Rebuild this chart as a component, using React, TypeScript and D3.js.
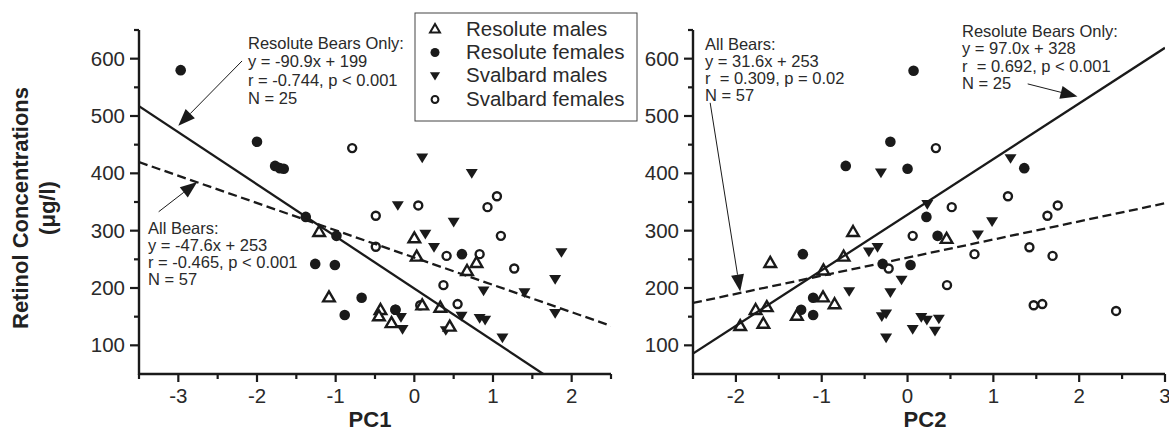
import React from "react";
import * as d3 from "d3";

// Retinol concentration (µg/l) against principal component scores, by population and sex
const resoluteMalesPC1: [number, number][] = [
  [-1.21, 298], [-1.085, 184], [-0.43, 162], [-0.45, 151], [-0.29, 139], [0.0, 287],
  [0.03, 255], [0.1, 170], [0.33, 166], [0.45, 133], [0.67, 230], [0.79, 244],
];
const resoluteFemalesPC1: [number, number][] = [
  [-2.97, 580], [-2.0, 455], [-1.77, 413], [-1.71, 409], [-1.66, 408], [-1.38, 324],
  [-0.99, 291], [-1.26, 242], [-1.01, 240], [0.605, 259], [-0.67, 183], [-0.24, 162], [-0.885, 153],
];
const svalbardMalesPC1: [number, number][] = [
  [-0.21, 344], [0.1, 427], [0.14, 294], [0.25, 271], [0.5, 315], [0.73, 400],
  [0.88, 195], [1.4, 192], [1.79, 215], [1.87, 262], [1.79, 156], [0.6, 151],
  [0.83, 147], [0.9, 144], [0.4, 126], [1.12, 113], [-0.17, 149], [-0.15, 128],
];
const svalbardFemalesPC1: [number, number][] = [
  [-0.79, 444], [-0.49, 326], [-0.49, 272], [0.05, 344], [0.075, 170], [1.05, 360],
  [0.93, 341], [1.1, 291], [0.41, 256], [0.83, 259], [1.27, 234], [0.37, 205],
  [0.55, 172], [-0.24, 162],
];

const resoluteMalesPC2: [number, number][] = [
  [-0.635, 298], [-1.6, 244], [-0.745, 255], [-0.98, 231], [-0.985, 184], [-0.85, 172],
  [-1.64, 167], [-1.77, 162], [-1.68, 138], [-1.95, 134], [-1.29, 152], [0.455, 286],
];
const resoluteFemalesPC2: [number, number][] = [
  [0.07, 579], [-0.2, 455], [-0.72, 413], [1.36, 409], [0.0, 408], [0.22, 324],
  [0.35, 291], [-0.29, 242], [0.035, 240], [-1.22, 259], [-1.1, 183], [-1.24, 162], [-1.1, 153],
];
const svalbardMalesPC2: [number, number][] = [
  [-0.31, 401], [1.2, 426], [0.23, 346], [0.985, 316], [0.82, 293], [-0.35, 271],
  [-0.45, 263], [-0.68, 194], [-0.07, 214], [-0.2, 192], [-0.25, 155], [-0.3, 150],
  [0.16, 149], [0.225, 144], [0.365, 146], [0.06, 128], [0.32, 125], [-0.25, 113],
];
const svalbardFemalesPC2: [number, number][] = [
  [0.33, 444], [1.17, 360], [0.515, 341], [1.75, 344], [1.63, 326], [0.06, 291],
  [0.78, 259], [1.42, 271], [-0.22, 234], [0.46, 205], [1.47, 170], [1.57, 172],
  [1.69, 256], [2.43, 160],
];

// Regression fits: y = slope * x + intercept
const fitPC1All = { slope: -47.6, intercept: 253 };
const fitPC1Resolute = { slope: -90.9, intercept: 199 };
const fitPC2All = { slope: 31.6, intercept: 253 };
const fitPC2Resolute = { slope: 97.0, intercept: 328 };

const pc1ResoluteNote = ["Resolute Bears Only:", "y = -90.9x + 199", "r = -0.744, p < 0.001", "N = 25"];
const pc1AllNote = ["All Bears:", "y = -47.6x + 253", "r = -0.465, p < 0.001", "N = 57"];
const pc2AllNote = ["All Bears:", "y = 31.6x + 253", "r  = 0.309, p = 0.02", "N = 57"];
const pc2ResoluteNote = ["Resolute Bears Only:", "y = 97.0x + 328", "r  = 0.692, p < 0.001", "N = 25"];

const legendLabels = ["Resolute males", "Resolute females", "Svalbard males", "Svalbard females"];
const legendKinds = ["upOpen", "dotFilled", "downFilled", "dotOpen"] as const;

const yTicks = [100, 200, 300, 400, 500, 600];
const yMinorTicks = [150, 250, 350, 450, 550, 650];
const pc1Ticks = [-3, -2, -1, 0, 1, 2];
const pc1MinorTicks = [-3.5, -2.5, -1.5, -0.5, 0.5, 1.5, 2.5];
const pc2Ticks = [-2, -1, 0, 1, 2, 3];
const pc2MinorTicks = [-2.5, -1.5, -0.5, 0.5, 1.5, 2.5];

const FONT = "'Liberation Sans', Arial, Helvetica, sans-serif";
const INK = "#1a1a1a";
const TEXT = "#2a2a2a";

type Kind = "upOpen" | "dotFilled" | "downFilled" | "dotOpen";

function Marker({ kind, x, y, s = 1 }: { kind: Kind; x: number; y: number; s?: number }) {
  if (kind === "dotFilled") return <circle cx={x} cy={y} r={5.3 * s} fill={INK} />;
  if (kind === "dotOpen")
    return <circle cx={x} cy={y} r={4 * s} fill="#fff" stroke={INK} strokeWidth={2.4 * s} />;
  if (kind === "upOpen")
    return (
      <path
        transform={`translate(${x},${y}) scale(${s})`}
        d="M0,-5.8 L5.8,4.2 L-5.8,4.2 Z"
        fill="#fff"
        stroke={INK}
        strokeWidth={2.4}
        strokeLinejoin="miter"
      />
    );
  return <path transform={`translate(${x},${y}) scale(${s})`} d="M-6,-4.3 L6,-4.3 L0,5.4 Z" fill={INK} />;
}

function Arrow({ x1, y1, x2, y2 }: { x1: number; y1: number; x2: number; y2: number }) {
  const ang = Math.atan2(y2 - y1, x2 - x1);
  const len = 17, hw = 6.5;
  const bx = x2 - len * Math.cos(ang), by = y2 - len * Math.sin(ang);
  const px = -Math.sin(ang) * hw, py = Math.cos(ang) * hw;
  return (
    <g>
      <line x1={x1} y1={y1} x2={bx} y2={by} stroke={INK} strokeWidth={1} />
      <path d={`M${x2},${y2} L${bx + px},${by + py} L${bx - px},${by - py} Z`} fill={INK} />
    </g>
  );
}

function Note({ lines, x, y, dy }: { lines: string[]; x: number; y: number; dy: number }) {
  return (
    <text x={x} y={y} fontFamily={FONT} fontSize={16.5} fill={TEXT} style={{ whiteSpace: "pre" }}>
      {lines.map((l, i) => (
        <tspan key={i} x={x} dy={i === 0 ? 0 : dy}>
          {l}
        </tspan>
      ))}
    </text>
  );
}

type Fit = { slope: number; intercept: number };

function Panel(props: {
  id: string;
  x0: number;
  x1: number;
  xDomain: [number, number];
  ticks: number[];
  minor: number[];
  title: string;
  titleX: number;
  groups: { kind: Kind; pts: [number, number][] }[];
  fitAll: Fit;
  fitRes: Fit;
}) {
  const { id, x0, x1, xDomain, ticks, minor, title, titleX, groups, fitAll, fitRes } = props;
  const top = 30, bottom = 374;
  const x = d3.scaleLinear().domain(xDomain).range([x0, x1]);
  const y = d3.scaleLinear().domain([50, 650]).range([bottom, top]);
  const fitPath = (f: Fit) =>
    d3
      .line<number>()
      .x((v) => x(v))
      .y((v) => y(f.slope * v + f.intercept))(xDomain as number[]) || "";
  return (
    <g>
      <defs>
        <clipPath id={`clip-${id}`}>
          <rect x={x0} y={top} width={x1 - x0} height={bottom - top} />
        </clipPath>
      </defs>
      {/* markers */}
      {groups.map((g, gi) =>
        g.pts.map((p, i) => <Marker key={`${gi}-${i}`} kind={g.kind} x={x(p[0])} y={y(p[1])} />)
      )}
      {/* regression lines */}
      <g clipPath={`url(#clip-${id})`}>
        <path d={fitPath(fitRes)} fill="none" stroke={INK} strokeWidth={2.3} />
        <path d={fitPath(fitAll)} fill="none" stroke={INK} strokeWidth={2.3} strokeDasharray="9,4.5" />
      </g>
      {/* axes */}
      <line x1={x0} y1={top} x2={x0} y2={bottom + 1} stroke={INK} strokeWidth={2.4} />
      <line x1={x0 - 1} y1={bottom} x2={x1} y2={bottom} stroke={INK} strokeWidth={2.4} />
      {yTicks.map((t) => (
        <g key={`yt${t}`}>
          <line x1={x0 - 9} x2={x0} y1={y(t)} y2={y(t)} stroke={INK} strokeWidth={2.2} />
          <text x={x0 - 14} y={y(t) + 7} textAnchor="end" fontFamily={FONT} fontSize={20.5} fill={TEXT}>
            {t}
          </text>
        </g>
      ))}
      {yMinorTicks.map((t) => (
        <line key={`ym${t}`} x1={x0 - 5} x2={x0} y1={y(t)} y2={y(t)} stroke={INK} strokeWidth={2.2} />
      ))}
      {ticks.map((t) => (
        <g key={`xt${t}`}>
          <line x1={x(t)} x2={x(t)} y1={bottom} y2={bottom + 8} stroke={INK} strokeWidth={2.2} />
          <text x={x(t)} y={bottom + 29} textAnchor="middle" fontFamily={FONT} fontSize={20.5} fill={TEXT}>
            {t}
          </text>
        </g>
      ))}
      {minor.map((t) => (
        <line key={`xm${t}`} x1={x(t)} x2={x(t)} y1={bottom} y2={bottom + 5} stroke={INK} strokeWidth={2.2} />
      ))}
      <text x={titleX} y={427} textAnchor="middle" fontFamily={FONT} fontSize={22} fontWeight="bold" fill="#222">
        {title}
      </text>
    </g>
  );
}

export default function App() {
  const xL = d3.scaleLinear().domain([-3.5, 2.5]).range([139, 611]);
  const xR = d3.scaleLinear().domain([-2.5, 3]).range([693, 1165]);
  const yS = d3.scaleLinear().domain([50, 650]).range([374, 30]);

  return (
    <svg
      width={1169}
      height={432}
      viewBox="0 0 1169 432"
      style={{ position: "absolute", left: 0, top: 0, background: "#fff" }}
    >
      <rect x={0} y={0} width={1169} height={432} fill="#fff" />

      {/* y-axis title */}
      <g transform="translate(28,208) rotate(-90)">
        <text x={0} y={0} textAnchor="middle" fontFamily={FONT} fontSize={22} fontWeight="bold" fill="#222">
          Retinol Concentrations
        </text>
        <text x={0} y={27} textAnchor="middle" fontFamily={FONT} fontSize={22} fontWeight="bold" fill="#222">
          (μg/l)
        </text>
      </g>

      <Panel
        id="pc1"
        x0={139}
        x1={611}
        xDomain={[-3.5, 2.5]}
        ticks={pc1Ticks}
        minor={pc1MinorTicks}
        title="PC1"
        titleX={370}
        groups={[
          { kind: "dotOpen", pts: svalbardFemalesPC1 },
          { kind: "downFilled", pts: svalbardMalesPC1 },
          { kind: "upOpen", pts: resoluteMalesPC1 },
          { kind: "dotFilled", pts: resoluteFemalesPC1 },
        ]}
        fitAll={fitPC1All}
        fitRes={fitPC1Resolute}
      />
      <Panel
        id="pc2"
        x0={693}
        x1={1165}
        xDomain={[-2.5, 3]}
        ticks={pc2Ticks}
        minor={pc2MinorTicks}
        title="PC2"
        titleX={925}
        groups={[
          { kind: "dotOpen", pts: svalbardFemalesPC2 },
          { kind: "downFilled", pts: svalbardMalesPC2 },
          { kind: "upOpen", pts: resoluteMalesPC2 },
          { kind: "dotFilled", pts: resoluteFemalesPC2 },
        ]}
        fitAll={fitPC2All}
        fitRes={fitPC2Resolute}
      />

      {/* annotations */}
      <Note lines={pc1ResoluteNote} x={248} y={49} dy={18.3} />
      <Arrow x1={xL(-2.19)} y1={yS(596)} x2={xL(-3.0)} y2={yS(483)} />
      <Note lines={pc1AllNote} x={148} y={234} dy={17} />
      <Arrow x1={xL(-3.25)} y1={yS(333)} x2={xL(-2.76)} y2={yS(385)} />
      <Note lines={pc2AllNote} x={705} y={49.5} dy={17} />
      <Arrow x1={xR(-2.3)} y1={yS(523)} x2={xR(-1.95)} y2={yS(194)} />
      <Note lines={pc2ResoluteNote} x={962} y={36.7} dy={17.5} />
      <Arrow x1={xR(1.4)} y1={yS(556)} x2={xR(1.98)} y2={yS(534)} />

      {/* legend */}
      <g>
        <rect x={415} y={13} width={222} height={108} fill="#fff" stroke="#444" strokeWidth={1} />
        {legendLabels.map((l, i) => (
          <g key={l}>
            <Marker kind={legendKinds[i]} x={435} y={29 + i * 23.5} s={0.85} />
            <text x={466} y={35.5 + i * 23.4} fontFamily={FONT} fontSize={20.5} fill={TEXT}>
              {l}
            </text>
          </g>
        ))}
      </g>
    </svg>
  );
}
